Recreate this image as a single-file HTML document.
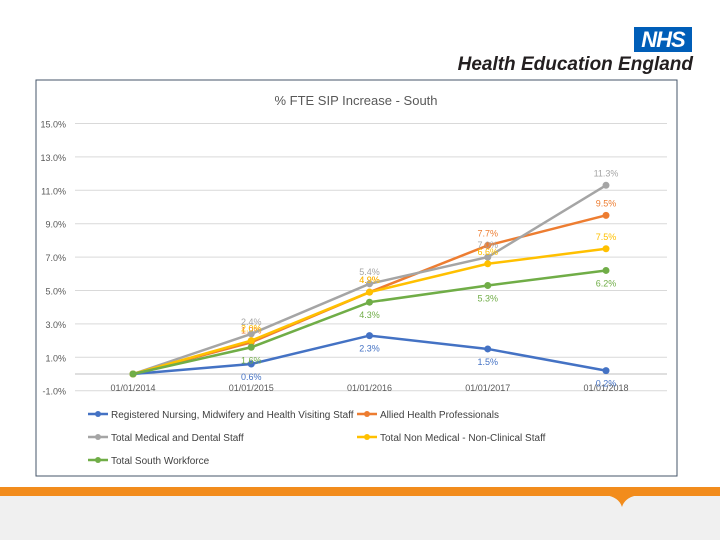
<!DOCTYPE html>
<html><head><meta charset="utf-8"><style>
body{margin:0;width:720px;height:540px;background:#fff;position:relative;overflow:hidden;font-family:"Liberation Sans",sans-serif}
</style></head><body>
<div style="position:absolute;left:634px;top:27px;width:58px;height:25px;background:#005eb8;color:#fff;font:italic bold 22px 'Liberation Sans',sans-serif;text-align:center;line-height:25px;letter-spacing:-1px">NHS</div>
<div style="position:absolute;right:27px;top:54px;font:italic bold 19px 'Liberation Sans',sans-serif;color:#231f20">Health Education England</div>
<div style="position:absolute;left:0;top:487px;width:720px;height:9px;background:#f28c1c"></div>
<div style="position:absolute;left:0;top:496px;width:720px;height:44px;background:#f0f0f0"></div>
<svg style="position:absolute;left:605px;top:495px" width="34" height="14"><path d="M0 0 Q14 2 17 12 Q20 2 34 0 Z" fill="#f28c1c"/></svg>
<svg id="chart" style="position:absolute;left:0;top:0" width="720" height="540"></svg>
<script>
const categories=["01/01/2014","01/01/2015","01/01/2016","01/01/2017","01/01/2018"];
const seriesNames=["Registered Nursing, Midwifery and Health Visiting Staff","Allied Health Professionals","Total Medical and Dental Staff","Total Non Medical - Non-Clinical Staff","Total South Workforce"];
const nursing=[0,0.6,2.3,1.5,0.2];
const ahp=[0,1.9,4.9,7.7,9.5];
const medical=[0,2.4,5.4,7.0,11.3];
const nonMedical=[0,2.0,4.9,6.6,7.5];
const total=[0,1.6,4.3,5.3,6.2];
const yTicks=[-1,1,3,5,7,9,11,13,15];
const colors=["#4472c4","#ed7d31","#a5a5a5","#ffc000","#70ad47"];
const allSeries=[nursing,ahp,medical,nonMedical,total];
const NS="http://www.w3.org/2000/svg";
const svg=document.getElementById('chart');
function el(t,a,p){const e=document.createElementNS(NS,t);for(const k in a)e.setAttribute(k,a[k]);(p||svg).appendChild(e);return e;}
const x=i=>133+i*118.25;
const y=v=>374-v*16.7;
let f=el('rect',{x:36,y:80,width:641,height:396,fill:'#fff',stroke:'#44546a','stroke-width':1});


let t=el('text',{x:356,y:105,'text-anchor':'middle','font-size':13,fill:'#595959'});t.textContent='% FTE SIP Increase - South';


yTicks.forEach(v=>{
 let g=el('line',{x1:75,x2:667,y1:y(v),y2:y(v),stroke:'#d9d9d9'});
 
 
 let l=el('text',{x:66,y:y(v)+4,'text-anchor':'end','font-size':9,fill:'#595959'});l.textContent=v.toFixed(1)+'%';
 
 
});
let ax=el('line',{x1:75,x2:667,y1:y(0),y2:y(0),stroke:'#bfbfbf'});


categories.forEach((c,i)=>{
 let l=el('text',{x:x(i),y:391,'text-anchor':'middle','font-size':9,fill:'#595959'});l.textContent=c;
 
 
});
allSeries.forEach((s,k)=>{
 let p=el('polyline',{points:s.map((v,i)=>x(i)+','+y(v)).join(' '),fill:'none',stroke:colors[k],'stroke-width':2.5});
 
 
 s.forEach((v,i)=>{
  let c=el('circle',{cx:x(i),cy:y(v),r:3.5,fill:colors[k]});
  
  
  if(i>0){
   const below=(k==0||k==4);
   let l=el('text',{x:x(i),y:y(v)+(below?16:-9),'text-anchor':'middle','font-size':9,fill:colors[k]});
   l.textContent=v.toFixed(1)+'%';
   
   
  }
 });
});
const legPos=[[88,414],[357,414],[88,437],[357,437],[88,460]];
seriesNames.forEach((n,k)=>{
 const [lx,ly]=legPos[k];
 let g=el('g',{});
 
 
 el('line',{x1:lx,x2:lx+20,y1:ly,y2:ly,stroke:colors[k],'stroke-width':2.5},g);
 el('circle',{cx:lx+10,cy:ly,r:3,fill:colors[k]},g);
 let tx=el('text',{x:lx+23,y:ly+4,'font-size':10,fill:'#404040'},g);tx.textContent=n;
});
</script>
</body></html>
